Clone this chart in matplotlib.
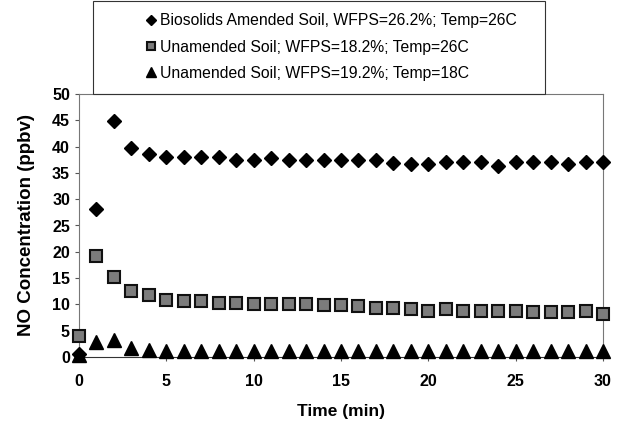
import matplotlib
matplotlib.use('Agg')
import matplotlib.pyplot as plt
from matplotlib.patches import Rectangle
import numpy as np

plt.rcParams['font.family'] = ['Liberation Sans', 'DejaVu Sans']

# donnees
temps = np.arange(0, 31)
biosolides = [0.5, 28.2, 44.8, 39.7, 38.6, 38.0, 38.0, 38.0, 38.1, 37.5, 37.5,
              37.9, 37.4, 37.4, 37.4, 37.4, 37.4, 37.4, 36.8, 36.6, 36.6, 37.0,
              37.0, 37.0, 36.4, 37.0, 37.0, 37.0, 36.6, 37.0, 37.0]
sol_26 = [3.9, 19.2, 15.2, 12.6, 11.8, 10.9, 10.7, 10.7, 10.3, 10.3, 10.0,
          10.0, 10.0, 10.0, 9.9, 9.9, 9.7, 9.4, 9.3, 9.2, 8.8, 9.2, 8.7, 8.8,
          8.8, 8.7, 8.6, 8.6, 8.6, 8.7, 8.1]
sol_18 = [0.3, 2.9, 3.2, 1.7, 1.4, 1.1, 1.1, 1.1, 1.1, 1.1, 1.1, 1.1, 1.1,
          1.1, 1.1, 1.1, 1.1, 1.1, 1.1, 1.1, 1.1, 1.1, 1.1, 1.1, 1.1, 1.1,
          1.1, 1.1, 1.1, 1.1, 1.1]

labels = ['Biosolids Amended Soil, WFPS=26.2%; Temp=26C',
          'Unamended Soil; WFPS=18.2%; Temp=26C',
          'Unamended Soil; WFPS=19.2%; Temp=18C']

fig = plt.figure(figsize=(6.21, 4.23), dpi=100)
ax = fig.add_axes([79/621, 66/423, 524/621, 263/423])

l1, = ax.plot(temps, biosolides, 'D', color='black', markersize=7.5, clip_on=False, zorder=3)
l2, = ax.plot(temps, sol_26, 's', markerfacecolor='#7c7c7c', markeredgecolor='#111111',
              markeredgewidth=1.5, markersize=9, clip_on=False, zorder=3)
l3, = ax.plot(temps, sol_18, '^', color='black', markersize=10, clip_on=False, zorder=4)

ax.set_xlim(0, 30)
ax.set_ylim(0, 50)
ax.set_xticks(range(0, 31, 5))
ax.set_yticks(range(0, 51, 5))
for s in ax.spines.values():
    s.set_color('#777777')
    s.set_linewidth(0.8)
ax.spines['bottom'].set_color('#333333')
ax.tick_params(axis='both', length=3, width=0.8, color='#555555', labelsize=11.5)
for t in ax.get_xticklabels() + ax.get_yticklabels():
    t.set_fontweight('bold')
ax.tick_params(axis='x', pad=9)

ax.set_xlabel('Time (min)', fontsize=12.5, fontweight='bold', labelpad=11)
ax.set_ylabel('NO Concentration (ppbv)', fontsize=13.5, fontweight='bold', labelpad=12)

# cadre de la legende
fig.patches.append(Rectangle((93/621, 1 - 94/423), 452/621, 93/423,
                             transform=fig.transFigure, fill=False,
                             edgecolor='#333333', linewidth=0.8))
leg = fig.legend([l1, l2, l3], labels, loc='upper left',
                 bbox_to_anchor=(140/621, 1 - 7/423), frameon=False,
                 fontsize=11.3, handlelength=0.6, handletextpad=0.3,
                 labelspacing=0.72, markerscale=0.65, borderaxespad=0)

fig.savefig('out.png', dpi=100)
